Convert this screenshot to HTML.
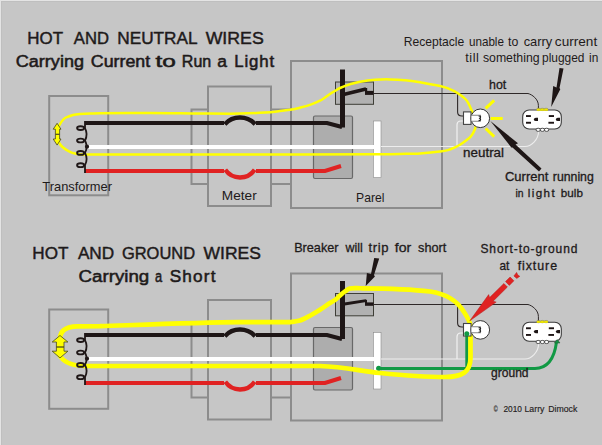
<!DOCTYPE html>
<html><head><meta charset="utf-8"><style>
html,body{margin:0;padding:0;background:#c6c6c6;}
body{width:602px;height:445px;overflow:hidden;}
svg{display:block;}
text{font-family:"Liberation Sans",sans-serif;fill:#1e1a1a;}
.b{font-weight:bold;}
</style></head><body>
<svg width="602" height="445" viewBox="0 0 602 445" xmlns="http://www.w3.org/2000/svg">
<defs>
<g id="boxes" fill="none" stroke="#8c8c8c" stroke-width="2">
  <rect x="49.2" y="96" width="59" height="99.3"/>
  <rect x="191.5" y="109.5" width="99.5" height="74.5"/>
  <rect x="208" y="86.5" width="63" height="119.5" fill="#c6c6c6"/>
</g>
<g id="panelbox" fill="none" stroke="#8c8c8c" stroke-width="2">
  <rect x="291" y="61" width="151" height="147" fill="#c6c6c6"/>
</g>
<g id="panelboxes">
  <rect x="313.5" y="116" width="39" height="62.5" rx="1.5" fill="#adadad" stroke="#686868" stroke-width="1.2"/>
  <rect x="335.5" y="82" width="38" height="22.3" fill="#b1b1b1" stroke="#3e3e36" stroke-width="1"/>
</g>
<g id="wires" fill="none" stroke-width="4">
  <path d="M85,123 H224 M256,123 H327 L342,127" stroke="#1e1616"/>
  <path d="M224.8,124.2 A20.6,20.6 0 0 1 255.2,124.2" stroke="#1e1616" stroke-width="4.5"/>
  <path d="M85,171 H224 M256,171 H325 L341,166" stroke="#e02222"/>
  <path d="M225.3,169.8 A17.9,17.9 0 0 0 254.7,169.8" stroke="#e02222" stroke-width="4.3"/>
  <path d="M87,147 H374" stroke="#ffffff"/>
</g>
<g id="coil" fill="none" stroke="#1e1616" stroke-width="1.9">
  <ellipse cx="80.6" cy="128.1" rx="3.5" ry="1.9"/>
  <ellipse cx="80.6" cy="140.5" rx="3.5" ry="1.9"/>
  <ellipse cx="80.6" cy="152.9" rx="3.5" ry="1.9"/>
  <ellipse cx="80.6" cy="165.2" rx="3.5" ry="1.9"/>
  <path d="M85,121 V128.1 Q88.2,134.3 85,140.5 Q88.2,146.7 85,152.9 Q88.2,159 85,165.2 V173" stroke-width="1.8"/>
  <circle cx="87" cy="146.7" r="2.1" fill="#1e1616" stroke="none"/>
</g>
<g id="panelparts">
  <rect x="373.5" y="121" width="7.5" height="56.5" fill="#ffffff" stroke="#8a8a8a" stroke-width="0.6"/>
  <rect x="340" y="69.5" width="5" height="58" fill="#1e1616"/>

</g>
<g id="bulb">
  <rect x="463.5" y="111.9" width="7.5" height="12.5" fill="#fff" stroke="#444" stroke-width="1.1"/>
  <circle cx="480.3" cy="118.3" r="9.3" fill="#fff" stroke="#333" stroke-width="1"/>
  <rect x="471" y="115.2" width="9.4" height="6" fill="#fff" stroke="#666" stroke-width="0.8"/>
  <path d="M478.6,116 Q482.2,116.3 479.6,118.2 Q482.2,120.2 478.6,120.6" fill="none" stroke="#222" stroke-width="1.1"/>
</g>
<g id="recep">
  <rect x="522.7" y="110" width="38.6" height="19" rx="6.5" fill="#fff" stroke="#3a3a3a" stroke-width="1.1"/>
  <rect x="537" y="108.6" width="10.6" height="2" fill="#f0e800"/>
  <ellipse cx="538.5" cy="109.4" rx="2.1" ry="1.2" fill="#f0e800" stroke="#777" stroke-width="0.5"/>
  <ellipse cx="542.3" cy="109.4" rx="2.1" ry="1.2" fill="#f0e800" stroke="#777" stroke-width="0.5"/>
  <ellipse cx="546.1" cy="109.4" rx="2.1" ry="1.2" fill="#f0e800" stroke="#777" stroke-width="0.5"/>
  <rect x="536.8" y="109.5" width="11" height="1.1" fill="#f0e800"/>
  <ellipse cx="538.2" cy="129.8" rx="2.2" ry="1.6" fill="#fff" stroke="#333" stroke-width="0.8"/>
  <ellipse cx="542.4" cy="129.8" rx="2.2" ry="1.6" fill="#fff" stroke="#333" stroke-width="0.8"/>
  <ellipse cx="546.6" cy="129.8" rx="2.2" ry="1.6" fill="#fff" stroke="#333" stroke-width="0.8"/>
  <rect x="526" y="115.1" width="4.9" height="1.9" fill="#1e1616"/>
  <rect x="526" y="121.8" width="5" height="1.9" fill="#1e1616"/>
  <path d="M538,117.7 H535.8 A1.9,1.7 0 0 0 535.8,121.1 H538 Z" fill="#1e1616"/>
  <rect x="548.8" y="115.1" width="5.2" height="1.9" fill="#1e1616"/>
  <rect x="548.4" y="121.8" width="5.6" height="1.9" fill="#1e1616"/>
  <path d="M560,117.7 H557.8 A1.9,1.7 0 0 0 557.8,121.1 H560 Z" fill="#1e1616"/>
</g>
</defs>

<!-- frame -->
<rect x="0" y="0" width="602" height="1" fill="#e4e4e4"/>
<rect x="0" y="0" width="1" height="445" fill="#e4e4e4"/>
<rect x="1" y="1" width="601" height="1" fill="#bfbfbf"/>
<rect x="1" y="1" width="1" height="444" fill="#bfbfbf"/>

<!-- ============ TOP DIAGRAM ============ -->
<use href="#boxes"/>
<use href="#panelbox"/>
<use href="#panelboxes"/>
<use href="#panelparts"/>
<path d="M344.5,94.3 L366,89" fill="none" stroke="#1e1616" stroke-width="3.5"/>
<rect x="365" y="88" width="2.2" height="5" fill="#1e1616"/>
<rect x="365" y="90.9" width="8.6" height="4" fill="#1e1616"/>
<use href="#wires"/>

<!-- thin hot & neutral -->
<path d="M373,93.5 H528 C532,94.5 538.4,99 538.4,105.5 V109.5" fill="none" stroke="#2e2828" stroke-width="1"/>
<path d="M457.6,93.5 V112 Q457.6,116 462,116 H464" fill="none" stroke="#2e2828" stroke-width="1.1"/>
<path d="M381,146.5 H525 C531,146.5 538.6,140 538.6,131" fill="none" stroke="#ededed" stroke-width="1.1"/>
<path d="M457,146.5 V125 Q457,121 461,121 H464" fill="none" stroke="#f2f2f2" stroke-width="1.2"/>

<!-- yellow current path top -->
<path d="M476.0,125.0 C475.8,125.8 475.4,128.1 474.6,130.0 C473.8,131.9 472.4,134.4 471.0,136.2 C469.6,138.0 467.8,139.2 466.0,140.6 C464.2,142.0 461.8,143.7 460.0,144.8 C458.2,145.9 457.0,146.5 455.0,147.4 C453.0,148.3 450.5,149.4 448.0,150.1 C445.5,150.8 444.7,151.0 440.0,151.6 C435.3,152.2 426.7,153.0 420.0,153.4 C413.3,153.8 408.3,153.8 400.0,154.0 C391.7,154.2 386.7,154.2 370.0,154.3 C353.3,154.4 328.3,154.4 300.0,154.5 C271.7,154.6 233.3,154.6 200.0,154.6 C166.7,154.6 119.0,154.6 100.0,154.6 C81.0,154.6 89.3,154.5 86.0,154.5 C82.7,154.5 81.8,154.6 80.0,154.4 C78.2,154.2 76.7,153.9 75.0,153.5 C73.3,153.1 71.5,152.5 70.0,151.8 C68.5,151.2 67.2,150.4 66.0,149.6 C64.8,148.8 63.6,148.0 62.5,147.0 C61.4,146.0 60.3,144.8 59.5,143.5 C58.7,142.2 57.9,140.6 57.5,139.0 C57.1,137.4 57.0,135.7 57.0,134.0 C57.0,132.3 57.1,130.5 57.5,129.0 C57.9,127.5 58.7,126.2 59.5,124.8 C60.3,123.4 61.4,121.7 62.5,120.5 C63.6,119.3 64.2,118.4 66.0,117.5 C67.8,116.6 70.7,115.6 73.0,115.0 C75.3,114.4 77.2,114.2 80.0,114.0 C82.8,113.8 86.7,113.6 90.0,113.5 C93.3,113.4 90.0,113.3 100.0,113.2 C110.0,113.1 133.3,113.0 150.0,113.0 C166.7,113.0 185.0,113.4 200.0,113.5 C215.0,113.6 229.2,113.8 240.0,113.6 C250.8,113.4 258.3,113.0 265.0,112.6 C271.7,112.2 275.8,111.5 280.0,111.0 C284.2,110.5 286.7,110.2 290.0,109.7 C293.3,109.2 296.7,108.5 300.0,107.7 C303.3,106.9 306.7,106.1 310.0,104.9 C313.3,103.7 317.5,101.8 320.0,100.6 C322.5,99.4 323.3,98.6 325.0,97.5 C326.7,96.4 328.3,95.1 330.0,94.0 C331.7,92.9 333.3,92.0 335.0,91.0 C336.7,90.0 337.5,89.1 340.0,88.0 C342.5,86.9 346.7,85.2 350.0,84.2 C353.3,83.2 355.8,82.4 360.0,81.7 C364.2,81.0 370.0,80.2 375.0,79.8 C380.0,79.4 385.0,79.3 390.0,79.4 C395.0,79.5 400.0,79.8 405.0,80.3 C410.0,80.8 414.2,81.2 420.0,82.2 C425.8,83.2 435.2,84.9 440.0,86.0 C444.8,87.1 445.7,87.5 448.5,88.6 C451.3,89.7 454.0,90.8 457.0,92.7 C460.0,94.6 463.9,97.1 466.3,100.0 C468.7,102.9 470.4,107.7 471.5,110.0 C472.6,112.3 472.8,113.3 473.0,114.0" fill="none" stroke="#ffff00" stroke-width="2.5"/>
<!-- double arrow top -->
<path d="M57.1,123.3 L61,129.2 H59.6 V134.3 H55.4 V129.2 H53.2 Z M57.1,145.1 L61,139 H59.6 V134.3 H55.4 V139 H53.2 Z" fill="#ffff00" stroke="#46461e" stroke-width="0.8"/>
<use href="#coil"/>

<use href="#bulb"/>
<!-- rays -->
<path d="M485.6,108.3 L494.2,100.3 M490.6,118.4 H502.7 M485.6,128.5 L494.2,136.6" stroke="#ffff00" stroke-width="3" fill="none"/>
<use href="#recep"/>

<!-- arrows -->
<path d="M490.4,121 L518,143.3 L515.5,144.5 L541.5,168.5 L539,171.5 L512.5,147.5 L511.3,147.4 Z" fill="#1e1616"/>
<path d="M551.2,107 L553.2,86 L556.5,87.5 L559.5,68 L563.5,68.5 L559.5,88 L560.3,89.3 Z" fill="#1e1616"/>

<!-- texts top -->

<!-- ============ BOTTOM DIAGRAM ============ -->
<use href="#boxes" transform="translate(0,213.5)"/>
<use href="#panelbox" transform="translate(0,212.5)"/>
<use href="#panelboxes" transform="translate(0,211.5)"/>
<use href="#panelparts" transform="translate(0,211.5)"/>
<path d="M344.5,304 L366,300.6" fill="none" stroke="#1e1616" stroke-width="2.8"/>
<rect x="365" y="299.8" width="2" height="4" fill="#1e1616"/>
<rect x="365" y="302.4" width="8.6" height="3.4" fill="#1e1616"/>
<g transform="translate(0,212)">
<use href="#wires"/>
</g>

<path d="M373,304.5 H528 C532,305.5 538.4,310 538.4,316.5 V322" fill="none" stroke="#2e2828" stroke-width="1"/>
<path d="M457.6,304.5 V323 Q457.6,327 462,327 H464" fill="none" stroke="#2e2828" stroke-width="1.1"/>
<path d="M381,359 H525 C531,359 538.6,352.5 538.6,343.5" fill="none" stroke="#ededed" stroke-width="1.1"/>
<path d="M457,359 V337 Q457,333 461,333 H464" fill="none" stroke="#f2f2f2" stroke-width="1.2"/>

<!-- green ground -->
<path d="M378.7,368.4 H535 Q553,368.4 556.5,342" fill="none" stroke="#119944" stroke-width="3"/>
<path d="M466.8,333.7 V368.4" fill="none" stroke="#119944" stroke-width="3"/>
<circle cx="378.7" cy="368.3" r="2.6" fill="#119944"/>

<!-- yellow bottom -->
<path d="M470.5,326 V358 C470.5,372 462,377 445,377 C420,377 400,375 380,373 C360,371 345,367 320,366 H86 C72,366 64,362 60,356 V338 C60.5,331 66,326.7 77,326.4 L100,326.2 C150,324.5 200,322.5 240,322.2 H290 C291.7,321.6 296.7,321.5 300.0,320.5 C303.3,319.5 306.7,317.5 310.0,315.7 C313.3,313.9 316.7,311.9 320.0,309.8 C323.3,307.7 327.5,304.6 330.0,303.0 C332.5,301.4 333.3,301.3 335.0,300.0 C336.7,298.7 338.3,296.8 340.0,295.4 C341.7,294.0 343.3,292.5 345.0,291.4 C346.7,290.3 348.2,289.1 350.0,288.6 C351.8,288.1 354.0,288.2 356.0,288.2 C358.0,288.1 361.0,288.3 362.0,288.3 C380,288.4 410,289 430,291.5 C448,294 458,302 464,312 C468,318 470,322 470.5,326" fill="none" stroke="#ffff00" stroke-width="4.7"/>
<path d="M60,335.5 L67.9,342 H64 V347 H56.4 V342 H52.2 Z M60,357.9 L67.9,351.2 H64 V347 H56.4 V351.2 H52.2 Z" fill="#ffff00" stroke="#46461e" stroke-width="0.8"/>
<use href="#coil" transform="translate(0,212)"/>

<g transform="translate(0,211.6)"><use href="#bulb"/></g>
<circle cx="466.8" cy="333.7" r="2.5" fill="#119944"/>
<g transform="translate(0,212.2)"><use href="#recep"/></g>
<path d="M554.4,343 L557.2,339.6 L560,343 Z" fill="#119944" stroke="#2a4a30" stroke-width="0.5"/>

<!-- red bolt -->
<path d="M469.8,320.8 L488.7,294.6 L489.6,297.6 L503.9,283.5 L507.4,287.0 L493.1,301.2 L496.2,302.1 Z M505.5,281.6 L510.1,277.0 L513.9,280.8 L509.3,285.4 Z M513.9,276 L516.6,272.4 L517.8,275 L519.8,276.3 L516.8,278.4 Z" fill="#e02222" stroke="#b41c1c" stroke-width="0.5"/>
<!-- black arrow to breaker -->
<path d="M365.7,286 L366.9,273 L371,274 L374.2,258 L379.2,258.5 L374,275 L374.9,276.4 Z" fill="#1e1616"/>

<!-- texts bottom -->
<!-- TEXTS -->
<text x="27.29" y="44.1" font-size="16.9" textLength="35.72" lengthAdjust="spacingAndGlyphs" stroke="#1e1a1a" stroke-width="0.45">HOT</text>
<text x="73.87" y="44.1" font-size="16.9" textLength="35.13" lengthAdjust="spacingAndGlyphs" stroke="#1e1a1a" stroke-width="0.45">AND</text>
<text x="117.26" y="44.1" font-size="16.9" textLength="80.29" lengthAdjust="spacingAndGlyphs" stroke="#1e1a1a" stroke-width="0.45">NEUTRAL</text>
<text x="205.65" y="44.1" font-size="16.9" textLength="58.09" lengthAdjust="spacingAndGlyphs" stroke="#1e1a1a" stroke-width="0.45">WIRES</text>
<text x="15.78" y="66.8" font-size="16.8" textLength="68.22" lengthAdjust="spacingAndGlyphs" stroke="#1e1a1a" stroke-width="0.55">Carrying</text>
<text x="90.79" y="66.8" font-size="16.8" textLength="59.37" lengthAdjust="spacingAndGlyphs" stroke="#1e1a1a" stroke-width="0.55">Current</text>
<text x="155.60" y="66.8" font-size="16.8" textLength="20.35" lengthAdjust="spacingAndGlyphs" stroke="#1e1a1a" stroke-width="0.55">to</text>
<text x="181.85" y="66.8" font-size="16.8" textLength="29.37" lengthAdjust="spacingAndGlyphs" stroke="#1e1a1a" stroke-width="0.55">Run</text>
<text x="217.23" y="66.8" font-size="16.8" textLength="9.71" lengthAdjust="spacingAndGlyphs" stroke="#1e1a1a" stroke-width="0.55">a</text>
<text x="234.29" y="66.8" font-size="16.8" textLength="39.87" lengthAdjust="spacing" stroke="#1e1a1a" stroke-width="0.55">Light</text>
<text x="42.37" y="191.0" font-size="13.0" textLength="69.60" lengthAdjust="spacingAndGlyphs">Transformer</text>
<text x="221.79" y="200.4" font-size="13.0" textLength="34.92" lengthAdjust="spacingAndGlyphs">Meter</text>
<text x="356.08" y="201.6" font-size="12.2" textLength="28.36" lengthAdjust="spacingAndGlyphs">Parel</text>
<text x="403.65" y="46.0" font-size="12.4" textLength="60.66" lengthAdjust="spacingAndGlyphs">Receptacle</text>
<text x="468.92" y="46.0" font-size="12.4" textLength="35.05" lengthAdjust="spacingAndGlyphs">unable</text>
<text x="508.11" y="46.0" font-size="12.4" textLength="10.28" lengthAdjust="spacingAndGlyphs">to</text>
<text x="523.68" y="46.0" font-size="12.4" textLength="28.59" lengthAdjust="spacingAndGlyphs">carry</text>
<text x="554.87" y="46.0" font-size="12.4" textLength="42.32" lengthAdjust="spacingAndGlyphs">current</text>
<text x="465.14" y="62.2" font-size="12.7" textLength="13.74" lengthAdjust="spacing">till</text>
<text x="482.92" y="62.2" font-size="12.7" textLength="56.71" lengthAdjust="spacingAndGlyphs">something</text>
<text x="542.02" y="62.2" font-size="12.7" textLength="42.41" lengthAdjust="spacingAndGlyphs">plugged</text>
<text x="589.01" y="62.2" font-size="12.7" textLength="9.24" lengthAdjust="spacingAndGlyphs">in</text>
<text x="488.99" y="88.8" font-size="12.0" textLength="17.26" lengthAdjust="spacingAndGlyphs" stroke="#1e1a1a" stroke-width="0.3">hot</text>
<text x="463.10" y="156.5" font-size="12.5" textLength="40.94" lengthAdjust="spacingAndGlyphs" stroke="#1e1a1a" stroke-width="0.3">neutral</text>
<text x="504.99" y="180.8" font-size="12.0" textLength="43.27" lengthAdjust="spacingAndGlyphs" stroke="#1e1a1a" stroke-width="0.3">Current</text>
<text x="552.79" y="180.8" font-size="12.0" textLength="41.02" lengthAdjust="spacingAndGlyphs" stroke="#1e1a1a" stroke-width="0.3">running</text>
<text x="515.57" y="196.6" font-size="11.6" textLength="8.10" lengthAdjust="spacingAndGlyphs" stroke="#1e1a1a" stroke-width="0.3">in</text>
<text x="527.69" y="196.6" font-size="11.6" textLength="27.05" lengthAdjust="spacing" stroke="#1e1a1a" stroke-width="0.3">light</text>
<text x="560.87" y="196.6" font-size="11.6" textLength="22.04" lengthAdjust="spacingAndGlyphs" stroke="#1e1a1a" stroke-width="0.3">bulb</text>
<text x="32.28" y="259.0" font-size="17.4" textLength="36.15" lengthAdjust="spacingAndGlyphs" stroke="#1e1a1a" stroke-width="0.45">HOT</text>
<text x="77.88" y="259.0" font-size="17.4" textLength="36.30" lengthAdjust="spacingAndGlyphs" stroke="#1e1a1a" stroke-width="0.45">AND</text>
<text x="121.91" y="259.0" font-size="17.4" textLength="73.23" lengthAdjust="spacingAndGlyphs" stroke="#1e1a1a" stroke-width="0.45">GROUND</text>
<text x="203.55" y="259.0" font-size="17.4" textLength="57.36" lengthAdjust="spacingAndGlyphs" stroke="#1e1a1a" stroke-width="0.45">WIRES</text>
<text x="78.56" y="281.9" font-size="17.2" textLength="70.66" lengthAdjust="spacingAndGlyphs" stroke="#1e1a1a" stroke-width="0.55">Carrying</text>
<text x="155.05" y="281.9" font-size="17.2" textLength="7.13" lengthAdjust="spacingAndGlyphs" stroke="#1e1a1a" stroke-width="0.55">a</text>
<text x="169.67" y="281.9" font-size="17.2" textLength="45.81" lengthAdjust="spacing" stroke="#1e1a1a" stroke-width="0.55">Short</text>
<text x="294.17" y="251.7" font-size="13.0" textLength="44.32" lengthAdjust="spacingAndGlyphs" stroke="#1e1a1a" stroke-width="0.3">Breaker</text>
<text x="345.50" y="251.7" font-size="13.0" textLength="17.28" lengthAdjust="spacingAndGlyphs" stroke="#1e1a1a" stroke-width="0.3">will</text>
<text x="368.42" y="251.7" font-size="13.0" textLength="20.16" lengthAdjust="spacing" stroke="#1e1a1a" stroke-width="0.3">trip</text>
<text x="394.78" y="251.7" font-size="13.0" textLength="16.40" lengthAdjust="spacingAndGlyphs" stroke="#1e1a1a" stroke-width="0.3">for</text>
<text x="418.05" y="251.7" font-size="13.0" textLength="28.27" lengthAdjust="spacingAndGlyphs" stroke="#1e1a1a" stroke-width="0.3">short</text>
<text x="480.40" y="253.0" font-size="12.0" textLength="97.06" lengthAdjust="spacing" stroke="#1e1a1a" stroke-width="0.3">Short-to-ground</text>
<text x="499.45" y="270.0" font-size="12.4" textLength="9.90" lengthAdjust="spacingAndGlyphs" stroke="#1e1a1a" stroke-width="0.3">at</text>
<text x="517.65" y="270.0" font-size="12.4" textLength="39.39" lengthAdjust="spacing" stroke="#1e1a1a" stroke-width="0.3">fixture</text>
<text x="491.05" y="377.0" font-size="12.1" textLength="37.51" lengthAdjust="spacingAndGlyphs" stroke="#1e1a1a" stroke-width="0.3">ground</text>
<text x="493.77" y="412.3" font-size="8.7" textLength="3.89" lengthAdjust="spacingAndGlyphs" stroke="#2a2626" stroke-width="0.15">©</text>
<text x="503.50" y="412.3" font-size="8.7" textLength="18.46" lengthAdjust="spacingAndGlyphs" stroke="#2a2626" stroke-width="0.15">2010</text>
<text x="524.47" y="412.3" font-size="8.7" textLength="19.96" lengthAdjust="spacingAndGlyphs" stroke="#2a2626" stroke-width="0.15">Larry</text>
<text x="548.24" y="412.3" font-size="8.7" textLength="29.05" lengthAdjust="spacingAndGlyphs" stroke="#2a2626" stroke-width="0.15">Dimock</text>
<!-- /TEXTS -->
</svg>
</body></html>
